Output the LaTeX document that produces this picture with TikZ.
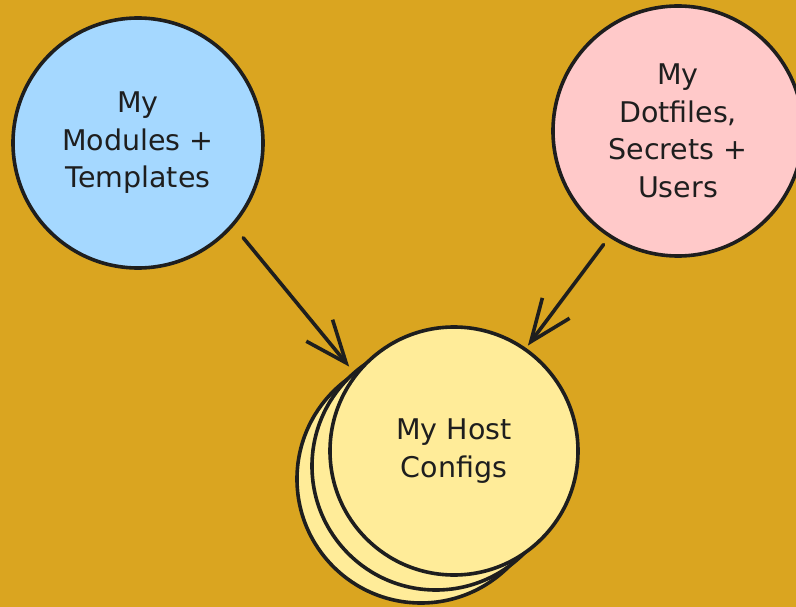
\documentclass[tikz,border=0pt]{standalone}
\usepackage{fontspec}
\setmainfont{DejaVu Sans}
\usetikzlibrary{arrows.meta}
\definecolor{bg}{HTML}{DAA520}
\definecolor{ink}{HTML}{1E1E1E}
\definecolor{bluefill}{HTML}{A5D8FF}
\definecolor{pinkfill}{HTML}{FFC9C9}
\definecolor{yellowfill}{HTML}{FFEC99}
\begin{document}
\begin{tikzpicture}[x=1pt,y=-1pt,
  bubble/.style={circle, draw=ink, line width=3.6pt, minimum size=250pt, inner sep=0pt,
    text=ink, align=center, font=\fontsize{28.5}{37.5}\selectfont},
  link/.style={draw=ink, line width=3.6pt, line cap=round, line join=round,
    -{Straight Barb[length=42pt,width=34pt]}}]
\useasboundingbox (0,0) rectangle (796,607);
\fill[bg] (0,0) rectangle (796,607);
\node[bubble, fill=yellowfill, minimum size=248pt] (host3) at (421,479) {};
\node[bubble, fill=yellowfill, minimum size=248pt] (host2) at (436,466) {};
\node[bubble, fill=yellowfill, minimum size=248pt] (host) at (454,451) {My Host\\Configs};
\node[bubble, fill=bluefill] (mods) at (138,143) {My\\Modules +\\Templates};
\node[bubble, fill=pinkfill] (dots) at (678,131) {My\\Dotfiles,\\Secrets +\\Users};
\draw[link, shorten <=15pt, shorten >=9pt] (mods.-41) -- (host.142);
\draw[link, shorten <=9pt, shorten >=3pt] (dots.-123) -- (host.55);
\end{tikzpicture}
\end{document}
